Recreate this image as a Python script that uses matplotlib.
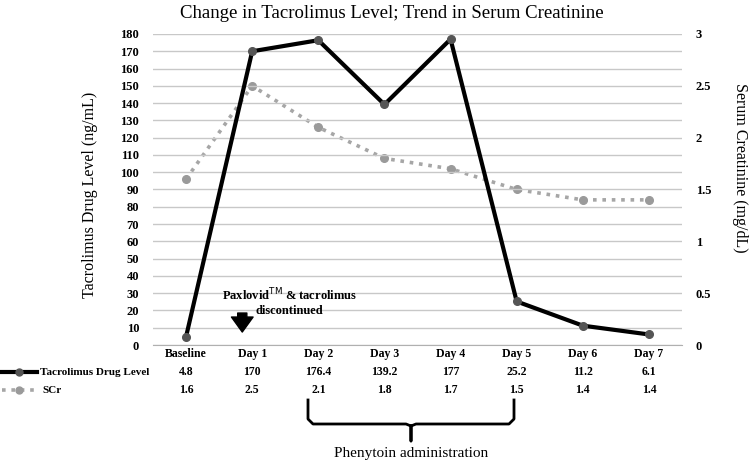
import matplotlib
matplotlib.use("Agg")
import matplotlib.pyplot as plt
from matplotlib.lines import Line2D

plt.rcParams['font.family'] = ['Liberation Serif', 'DejaVu Serif']

categories = ["Baseline", "Day 1", "Day 2", "Day 3", "Day 4", "Day 5", "Day 6", "Day 7"]
tacrolimus = [4.8, 170, 176.4, 139.2, 177, 25.2, 11.2, 6.1]
scr = [1.6, 2.5, 2.1, 1.8, 1.7, 1.5, 1.4, 1.4]
tac_labels = ["4.8", "170", "176.4", "139.2", "177", "25.2", "11.2", "6.1"]
scr_labels = ["1.6", "2.5", "2.1", "1.8", "1.7", "1.5", "1.4", "1.4"]

W, H = 749, 465
fig = plt.figure(figsize=(W / 100, H / 100), dpi=100)
L, R, T, B = 153, 682, 34, 345
ax = fig.add_axes([L / W, 1 - B / H, (R - L) / W, (B - T) / H])
ax2 = ax.twinx()

x = list(range(len(categories)))
ax.set_xlim(-0.5, len(categories) - 0.5)
ax.set_ylim(0, 180)
ax.set_yticks(range(0, 181, 10))
ax2.set_ylim(0, 3)
ax2.set_yticks([0, 0.5, 1, 1.5, 2, 2.5, 3])
ax2.set_yticklabels(["0", "0.5", "1", "1.5", "2", "2.5", "3"])

ax.grid(axis='y', color='#c8c8c8', linewidth=1)
ax.set_axisbelow(True)
for a in (ax, ax2):
    for s in a.spines.values():
        s.set_visible(False)
    a.tick_params(length=0, labelsize=9)
    for lab in a.get_yticklabels():
        lab.set_fontweight('bold')
ax.spines['bottom'].set_visible(True)
ax.spines['bottom'].set_color('#b0b0b0')
ax.set_xticks([])
ax.tick_params(axis='y', pad=10)
ax2.tick_params(axis='y', pad=10)

ax2.plot(x, scr, color='#a6a6a6', linestyle=(0, (1, 1.6)), linewidth=2.6,
         marker='o', markersize=5.5, markerfacecolor='#9a9a9a', markeredgecolor='#9a9a9a', zorder=2)
ax.set_zorder(ax2.get_zorder() + 1)
ax.patch.set_visible(False)
ax.plot(x, tacrolimus, color='black', linewidth=3, marker='o', markersize=5.5,
        markerfacecolor='#555555', markeredgecolor='#555555', zorder=3)

fig.text(90 / W, 1 - 195 / H, "Tacrolimus Drug Level (ng/mL)", fontsize=11.5,
         rotation=90, ha='center', va='center')
fig.text(740 / W, 1 - 168 / H, "Serum Creatinine (mg/dL)", fontsize=11.5,
         rotation=270, ha='center', va='center')

fig.text(0.523, 0.972, "Change in Tacrolimus Level; Trend in Serum Creatinine",
         ha='center', va='center', fontsize=13.5)

# annotation
ax.text(1.56, 25, "Paxlovid$^{\\mathrm{TM}}$ & tacrolimus\ndiscontinued", ha='center', va='center',
        fontsize=9, fontweight='bold', linespacing=1.25)
ax.annotate("", xy=(0.85, 7.5), xytext=(0.85, 18.5),
            arrowprops=dict(arrowstyle='simple,head_width=1.3,head_length=0.9,tail_width=0.55',
                            color='black', mutation_scale=12, shrinkA=0, shrinkB=0))

# data table
def fx(i):
    return (L + (i + 0.5) * (R - L) / len(categories)) / W

for i in x:
    fig.text(fx(i), 1 - 354 / H, categories[i], ha='center', va='center', fontsize=8.5, fontweight='bold')
    fig.text(fx(i), 1 - 372 / H, tac_labels[i], ha='center', va='center', fontsize=8.5, fontweight='bold')
    fig.text(fx(i), 1 - 390 / H, scr_labels[i], ha='center', va='center', fontsize=8.5, fontweight='bold')

fig.add_artist(Line2D([2 / W, 37 / W], [1 - 372 / H] * 2, color='black', linewidth=3))
fig.add_artist(Line2D([19 / W], [1 - 372 / H], marker='o', markersize=5, color='#555555'))
fig.add_artist(Line2D([2 / W, 37 / W], [1 - 390 / H] * 2, color='#a6a6a6', linewidth=2.6,
                      linestyle=(0, (1, 1.6))))
fig.add_artist(Line2D([19 / W], [1 - 390 / H], marker='o', markersize=5, color='#9a9a9a'))
fig.text(40 / W, 1 - 372 / H, "Tacrolimus Drug Level", ha='left', va='center', fontsize=8, fontweight='bold')
fig.text(42 / W, 1 - 390 / H, "SCr", ha='left', va='center', fontsize=8, fontweight='bold')

# bracket
bl, br, bt, bb, tip = 308, 514, 400, 424, 441
cx = (bl + br) / 2
r = 5
pts_x = [bl, bl, bl + r, cx - r, cx, cx, cx, cx + r, br - r, br, br]
pts_y = [bt, bb - r, bb, bb, bb + 2, tip, bb + 2, bb, bb, bb - r, bt]
fig.add_artist(Line2D([p / W for p in pts_x], [1 - p / H for p in pts_y], color='black', linewidth=2,
                      solid_joinstyle='round'))
fig.text(cx / W, 1 - 453 / H, "Phenytoin administration", ha='center', va='center', fontsize=11)

fig.savefig("out.png", dpi=100)
